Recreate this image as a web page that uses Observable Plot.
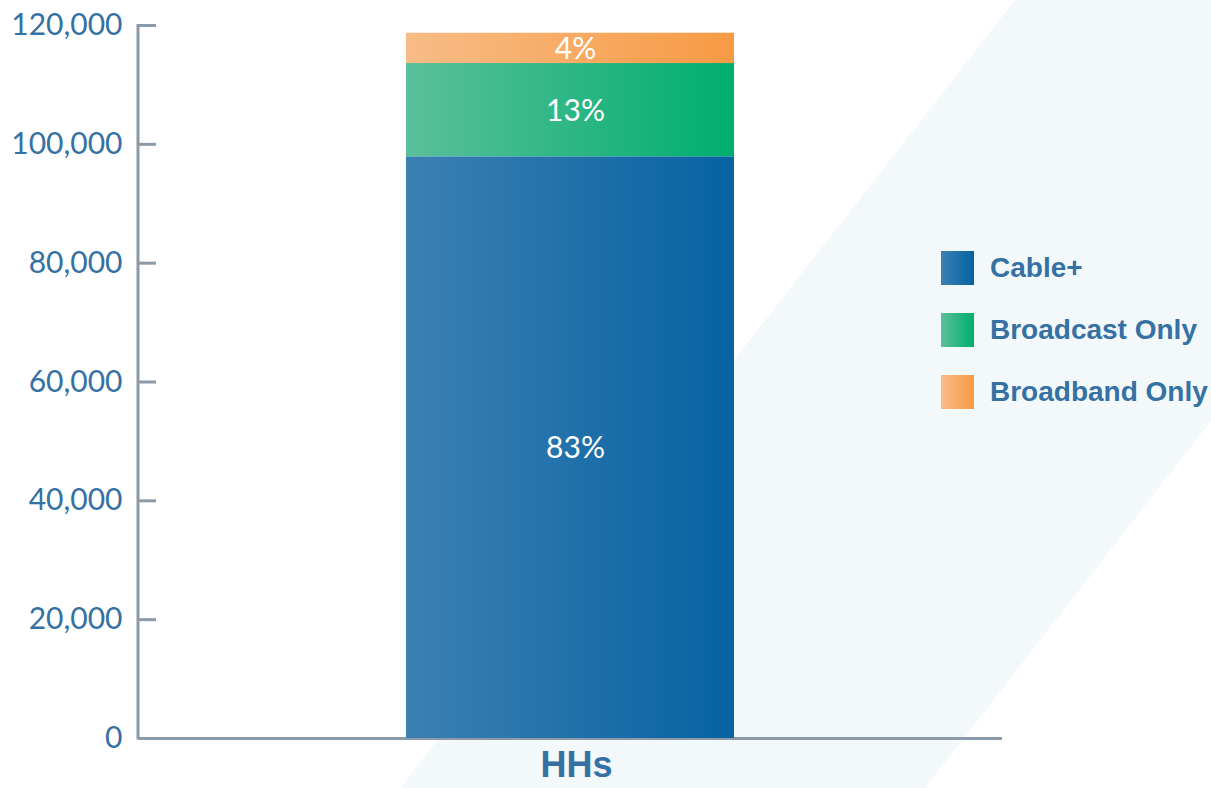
<!DOCTYPE html>
<html>
<head>
<meta charset="utf-8">
<script src="https://cdn.jsdelivr.net/npm/d3@7"></script>
<script src="https://cdn.jsdelivr.net/npm/@observablehq/plot@0.6"></script>
<style>
  html, body { margin: 0; padding: 0; background: #ffffff; }
  #wrap { position: relative; width: 1211px; height: 788px; overflow: hidden; }
  #bg, #chart, #legend { position: absolute; left: 0; top: 0; }
  #legend { font-family: "Liberation Sans", Arial, sans-serif; font-weight: bold; font-size: 28px; color: #3571a3; }
  .item { position: absolute; left: 941px; height: 34px; white-space: nowrap; }
  .sw { position: absolute; left: 0; top: 0; width: 33px; height: 34px; }
  .lab { position: absolute; left: 49px; top: 0; line-height: 34px; }
</style>
</head>
<body>
<div id="wrap">
  <svg id="bg" width="1211" height="788">
    <defs>
      <linearGradient id="gCable" x1="0" x2="1" y1="0" y2="0">
        <stop offset="0" stop-color="#3b80b3"/><stop offset="1" stop-color="#0762a2"/>
      </linearGradient>
      <linearGradient id="gBroadcast" x1="0" x2="1" y1="0" y2="0">
        <stop offset="0" stop-color="#5bbf9b"/><stop offset="1" stop-color="#00ae6f"/>
      </linearGradient>
      <linearGradient id="gBroadband" x1="0" x2="1" y1="0" y2="0">
        <stop offset="0" stop-color="#f8bc86"/><stop offset="1" stop-color="#f79a44"/>
      </linearGradient>
    </defs>
    <polygon points="1015,0 1211,0 1211,421 925,788 400,788" fill="#f3f8fb"/>
  </svg>
  <div id="chart"></div>
  <div id="legend"></div>
</div>
<script>
// ---- data ----
const groups = ["HHs"];
const series = ["Cable+", "Broadcast Only", "Broadband Only"];
const values = [97900, 15700, 5100];
const labels = ["83%", "13%", "4%"];
const yTicks = [0, 20000, 40000, 60000, 80000, 100000, 120000];
const gradients = ["url(#gCable)", "url(#gBroadcast)", "url(#gBroadband)"];

const data = series.map((s, i) => ({group: groups[0], series: s, value: values[i], label: labels[i]}));

const axisColor = "#8a9aa8";
const textColor = "#3571a3";

const plot = Plot.plot({
  width: 1211,
  height: 788,
  marginLeft: 138,
  marginRight: 209,
  marginTop: 25,
  marginBottom: 50,
  style: {background: "transparent", overflow: "visible"},
  x: {type: "band", domain: groups, padding: 0.449, label: null},
  y: {domain: [0, 120000], label: null},
  color: {type: "ordinal", domain: series, range: gradients},
  marks: [
    Plot.ruleY([0], {stroke: axisColor, strokeWidth: 3}),
    Plot.barY(data, {x: "group", y: "value", fill: "series"}),
    Plot.text(data, Plot.stackY({x: "group", y: "value", z: "series", text: "label", fill: "white", fontSize: 30, fontFamily: "Lato, sans-serif", dx: 5, dy: 1})),
    Plot.axisY({ticks: yTicks, tickSize: 18, dx: 18, tickFormat: () => "", stroke: axisColor, strokeWidth: 3, label: null}),
    Plot.axisY({ticks: yTicks, tickSize: 0, tickPadding: 16, tickFormat: d3.format(","), fill: textColor, fontSize: 30, fontFamily: "Lato, sans-serif", label: null}),
    Plot.axisX({tickSize: 0, tickPadding: 13, dx: 6, fill: textColor, fontSize: 36, fontWeight: "bold", fontFamily: "'Liberation Sans', Arial, sans-serif", label: null})
  ]
});

// left axis line drawn from the y scale
const ys = plot.scale("y");
const yScale = d3.scaleLinear().domain(ys.domain).range(ys.range);
d3.select(plot).append("line")
  .attr("x1", 138).attr("x2", 138)
  .attr("y1", yScale(120000) - 1).attr("y2", yScale(0) + 1.5)
  .attr("stroke", axisColor).attr("stroke-width", 3);

document.getElementById("chart").appendChild(plot);

// legend
const legend = document.getElementById("legend");
const tops = [251, 313, 375];
series.forEach((s, i) => {
  const it = document.createElement("div");
  it.className = "item";
  it.style.top = tops[i] + "px";
  it.innerHTML = `<svg class="sw" width="33" height="34"><rect width="33" height="34" fill="${gradients[i]}"/></svg><span class="lab">${s}</span>`;
  legend.appendChild(it);
});
</script>
</body>
</html>
